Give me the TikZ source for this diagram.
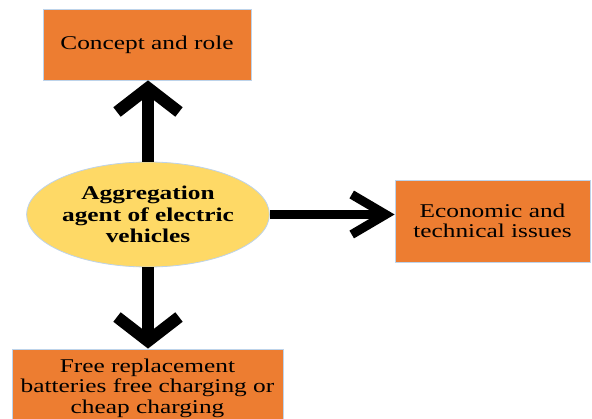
\documentclass[tikz,border=0pt]{standalone}
\usepackage{fontspec}
\setmainfont{Liberation Serif}[FakeStretch=1.3]
\usetikzlibrary{arrows.meta,shapes.geometric}
\definecolor{boxorange}{HTML}{ED7D31}
\definecolor{ellyellow}{HTML}{FED966}
\definecolor{edgeblue}{HTML}{BDD3EA}
\tikzset{
  box/.style={rectangle, fill=boxorange, draw=edgeblue, line width=0.8pt, inner sep=0pt, align=center,
    font=\fontsize{19.5}{20.5}\selectfont},
  hub/.style={ellipse, fill=ellyellow, draw=edgeblue, line width=0.8pt, inner sep=0pt, align=center,
    font=\bfseries\fontsize{19.5}{21.5}\selectfont},
  varrow/.style={line width=12pt, -{Straight Barb[length=24pt, width=62pt]}},
  harrow/.style={line width=9pt, -{Straight Barb[length=34pt, width=40pt]}}
}
\begin{document}
\begin{tikzpicture}[x=1pt, y=-1pt]
\useasboundingbox (0,0) rectangle (592,419);
\clip (0,0) rectangle (592,419);
\node[box, minimum width=208pt, minimum height=71pt] (concept) at (147,44.5) {Concept and role};
\node[hub, minimum width=234pt, minimum height=105pt] (hub) at (148,214.5) {Aggregation\\agent of electric\\vehicles};
\node[box, minimum width=195pt, minimum height=82pt] (econ) at (492.5,221) {Economic and\\technical issues};
\node[box, minimum width=271pt, minimum height=78pt] (free) at (147.5,388) {Free replacement\\batteries free charging or\\cheap charging};
\draw[varrow] (hub.north) -- (hub.north |- concept.south);
\draw[varrow] (hub.south) -- (hub.south |- free.north);
\draw[harrow] (hub.east) -- (hub.east -| econ.west);
\end{tikzpicture}
\end{document}
